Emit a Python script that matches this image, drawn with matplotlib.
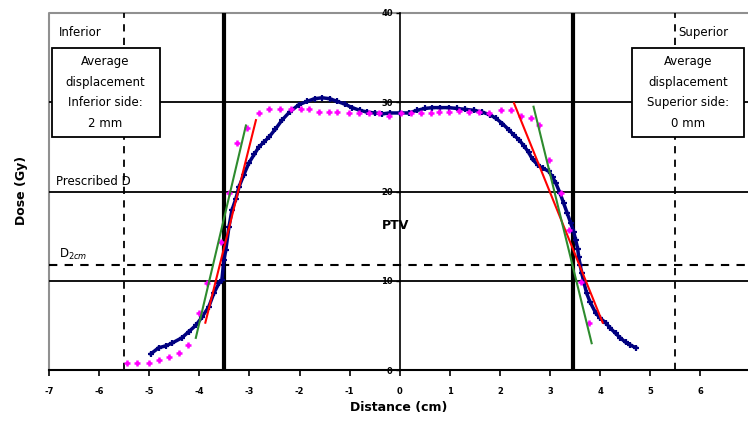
import numpy as np
import matplotlib.pyplot as plt
from matplotlib.patches import Rectangle

# measured dose profile (navy)
meas_x = [-4.97, -4.81, -4.67, -4.55, -4.35, -4.21, -4.07, -3.95, -3.81, -3.71, -3.61, -3.55,
          -3.51, -3.47, -3.41, -3.35, -3.27, -3.21, -3.11, -3.01, -2.90, -2.81, -2.70, -2.61,
          -2.48, -2.35, -2.20, -2.02, -1.85, -1.70, -1.55, -1.40, -1.25, -1.10, -0.95, -0.80,
          -0.65, -0.50, -0.35, -0.20, 0.00, 0.18, 0.35, 0.50, 0.65, 0.80, 0.98, 1.15, 1.31,
          1.48, 1.64, 1.80, 1.92, 2.05, 2.18, 2.28, 2.38, 2.48, 2.57, 2.65, 2.75, 2.85, 2.97,
          3.05, 3.11, 3.20, 3.27, 3.34, 3.41, 3.47, 3.51, 3.55, 3.57, 3.60, 3.63, 3.68, 3.73,
          3.80, 3.91, 4.00, 4.11, 4.20, 4.31, 4.40, 4.51, 4.60, 4.71]
meas_y = [1.8, 2.5, 2.7, 3.0, 3.6, 4.3, 5.0, 5.9, 7.1, 8.6, 9.7, 10.1,
          12.3, 13.5, 16.0, 17.9, 19.2, 20.5, 21.9, 23.2, 24.2, 25.0, 25.6, 26.1,
          27.0, 28.0, 28.9, 29.7, 30.1, 30.4, 30.5, 30.4, 30.1, 29.8, 29.4, 29.1,
          28.9, 28.8, 28.7, 28.8, 28.8, 28.8, 29.1, 29.3, 29.4, 29.4, 29.4, 29.3, 29.2,
          29.1, 28.9, 28.6, 28.2, 27.6, 26.9, 26.3, 25.8, 25.1, 24.4, 23.6, 23.0, 22.6, 22.3,
          21.6, 21.0, 19.8, 18.7, 17.6, 16.5, 15.5, 14.6, 13.6, 12.7, 11.8, 10.9, 9.7, 8.6,
          7.6, 6.4, 5.8, 5.3, 4.7, 4.1, 3.6, 3.1, 2.8, 2.5]

# calculated profile (magenta crosses)
calc_x = [-5.45, -5.25, -5.01, -4.81, -4.61, -4.41, -4.23, -4.01, -3.85, -3.57, -3.41, -3.25,
          -3.05, -2.81, -2.61, -2.38, -2.18, -1.98, -1.82, -1.62, -1.42, -1.26, -1.02, -0.82,
          -0.62, -0.42, -0.22, 0.02, 0.22, 0.42, 0.62, 0.78, 0.98, 1.18, 1.38, 1.58, 1.78,
          2.02, 2.22, 2.42, 2.62, 2.78, 2.97, 3.21, 3.37, 3.61, 3.77]
calc_y = [0.8, 0.8, 0.8, 1.1, 1.5, 1.9, 2.8, 6.4, 9.7, 14.3, 19.8, 25.4,
          27.1, 28.8, 29.2, 29.2, 29.2, 29.2, 29.2, 28.95, 28.95, 28.95, 28.8, 28.8,
          28.8, 28.8, 28.5, 28.8, 28.8, 28.8, 28.8, 28.95, 28.95, 29.0, 28.95, 28.95, 28.8,
          29.1, 29.1, 28.5, 28.2, 27.4, 23.5, 19.8, 15.7, 9.9, 5.3]

# penumbra fits
red_left_x, red_left_y = [-3.88, -2.87], [5.3, 28.0]
red_right_x, red_right_y = [2.28, 4.05], [29.9, 5.3]
green_left_x, green_left_y = [-4.07, -3.07], [3.6, 27.4]
green_right_x, green_right_y = [2.67, 3.83], [29.5, 3.0]

xticks = [-7, -6, -5, -4, -3, -2, -1, 0, 1, 2, 3, 4, 5, 6]
yticks = [0, 10, 20, 30, 40]
grid_levels = [10, 20, 30]
d2cm_level = 11.8
ptv_edges = [-3.5, 3.45]
dashed_x = [-5.5, 5.5]

fig = plt.figure(figsize=(7.48, 4.37), dpi=100)
ax = fig.add_axes([49/748, 1-370/437, 1-49/748, (370-13)/437])
ax.set_xlim(-7, 6.95)
ax.set_ylim(0, 40)

for lev in grid_levels:
    ax.axhline(lev, color='k', lw=1.3, zorder=1)
ax.axhline(d2cm_level, color='k', lw=1.5, ls=(0, (4, 3.5)), zorder=1)
for xv in dashed_x:
    ax.axvline(xv, color='k', lw=1.3, ls=(0, (4, 3.5)), zorder=1)
for xv in ptv_edges:
    ax.axvline(xv, color='k', lw=3, zorder=1)

# data
ax.plot(meas_x, meas_y, color='#000080', lw=2.5, marker='+', ms=4, mew=1.6, zorder=4)
ax.plot(calc_x, calc_y, ls='none', color='#ff00ff', marker='+', ms=5, mew=1.8, zorder=5)
ax.plot(red_left_x, red_left_y, color='#ff0000', lw=1.5, zorder=6)
ax.plot(red_right_x, red_right_y, color='#ff0000', lw=1.5, zorder=6)
ax.plot(green_left_x, green_left_y, color='#2e8b2e', lw=1.5, zorder=6)
ax.plot(green_right_x, green_right_y, color='#2e8b2e', lw=1.5, zorder=6)

# axes: y axis through 0, gray frame on left/top
ax.spines['right'].set_visible(False)
ax.spines['top'].set_visible(False)
ax.spines['left'].set_position(('data', 0))
ax.spines['left'].set_linewidth(1.2)
ax.spines['bottom'].set_linewidth(1.5)
ax.plot([0, 0, 1], [0, 1, 1], transform=ax.transAxes, color='#909090', lw=1.5, clip_on=False, zorder=0)

ax.set_xticks(xticks)
ax.set_yticks(yticks)
ax.set_xticklabels([str(t) for t in xticks], fontsize=6, fontweight='bold')
ax.set_yticklabels([str(t) for t in yticks], fontsize=6, fontweight='bold')
ax.tick_params(axis='x', direction='out', length=4, width=1.2, pad=8)
ax.tick_params(axis='y', direction='out', length=3, width=1.0, pad=2)

ax.set_xlabel('Distance (cm)', fontsize=9, fontweight='bold', labelpad=4)
fig.text(22/748, 1-190/437, 'Dose (Gy)', rotation=90, fontsize=9, fontweight='bold', ha='center', va='center')

# annotations
ax.text(-6.81, 37.8, 'Inferior', fontsize=8.5, va='center', ha='left', zorder=8)
ax.text(5.55, 37.8, 'Superior', fontsize=8.5, va='center', ha='left', zorder=8)
ax.text(-6.87, 20.4, 'Prescribed D', fontsize=8.5, va='bottom', ha='left', zorder=8)
ax.text(-6.81, 12.1, 'D$_{2cm}$', fontsize=8.5, va='bottom', ha='left', zorder=8)
ax.text(-0.08, 16.2, 'PTV', fontsize=9, fontweight='bold', va='center', ha='center', zorder=8)

ax.add_patch(Rectangle((-6.95, 26.1), 2.16, 10.0, facecolor='white', edgecolor='k', lw=1.3, zorder=7))
ax.text(-5.87, 31.1, 'Average\ndisplacement\nInferior side:\n2 mm', fontsize=8.5, ha='center', va='center',
        linespacing=1.75, zorder=8)
ax.add_patch(Rectangle((4.63, 26.1), 2.24, 10.0, facecolor='white', edgecolor='k', lw=1.3, zorder=7))
ax.text(5.75, 31.1, 'Average\ndisplacement\nSuperior side:\n0 mm', fontsize=8.5, ha='center', va='center',
        linespacing=1.75, zorder=8)

plt.savefig('out.png', dpi=100)
